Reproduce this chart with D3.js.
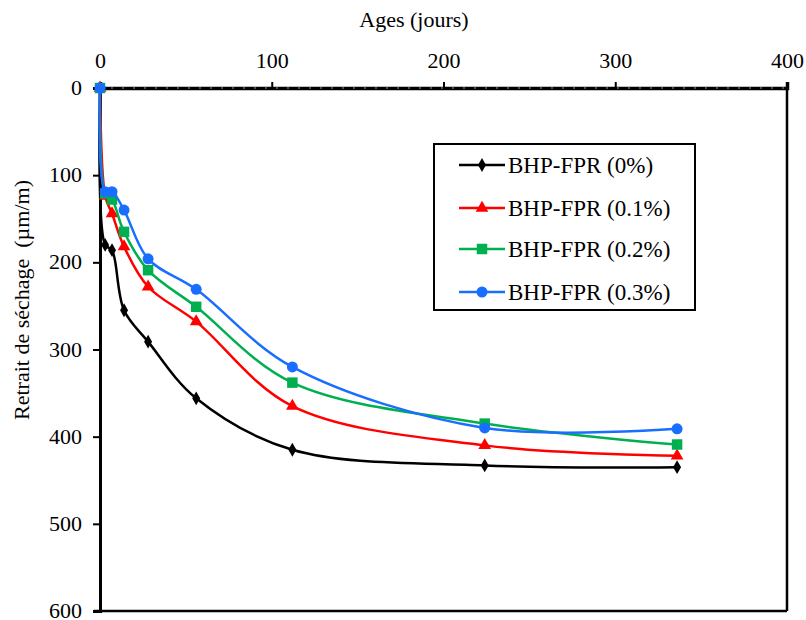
<!DOCTYPE html>
<html>
<head>
<meta charset="utf-8">
<script src="https://cdn.jsdelivr.net/npm/d3@7"></script>
<style>
  html, body { margin: 0; padding: 0; background: #fff; }
  svg text { font-family: "Liberation Serif", "Times New Roman", serif; fill: #000; }
</style>
</head>
<body>
<svg id="chart" width="806" height="620"></svg>
<script>
// Drying shrinkage of high-performance concrete with polypropylene fibres
const ages = [0, 3, 7, 14, 28, 56, 112, 224, 336];
const seriesNames = ["BHP-FPR (0%)", "BHP-FPR (0.1%)", "BHP-FPR (0.2%)", "BHP-FPR (0.3%)"];
const shrink0 = [0, 180, 186, 255, 291, 356, 415, 433, 435];
const shrink01 = [0, 124, 144, 182, 228, 268, 365, 410, 422];
const shrink02 = [0, 121, 128, 165, 209, 251, 338, 385, 409];
const shrink03 = [0, 119, 119, 140, 196, 231, 320, 390, 391];
const xTicks = [0, 100, 200, 300, 400];
const yTicks = [0, 100, 200, 300, 400, 500, 600];
const xTitle = "Ages (jours)";
const yTitle = "Retrait de séchage\u00a0\u00a0(µm/m)";

const values = [shrink0, shrink01, shrink02, shrink03];
const colors = ["#000000", "#ff0000", "#00b050", "#1a6eff"];
const symbols = [d3.symbolDiamond, d3.symbolTriangle, d3.symbolSquare, d3.symbolCircle];
const symSizes = [55, 70, 110, 95];

const svg = d3.select("#chart");
const x = d3.scaleLinear().domain([0, 400]).range([100, 787]);
const y = d3.scaleLinear().domain([0, 600]).range([88, 611]);

// Frame: right and bottom borders
svg.append("line").attr("x1", x(400)).attr("x2", x(400)).attr("y1", y(0)).attr("y2", y(600))
  .attr("stroke", "#000").attr("stroke-width", 2.5);
svg.append("line").attr("x1", x(0) - 6).attr("x2", x(400)).attr("y1", y(600)).attr("y2", y(600))
  .attr("stroke", "#000").attr("stroke-width", 2.5);

// Top (x) axis
const xAxis = svg.append("g").attr("transform", `translate(0,${y(0)})`)
  .call(d3.axisTop(x).tickValues(xTicks).tickFormat(d3.format("d")).tickSize(6).tickPadding(14));
xAxis.select(".domain").attr("stroke", "#000").attr("stroke-width", 3.5);
xAxis.selectAll(".tick line").attr("stroke-width", 2);
xAxis.selectAll(".tick text").attr("font-size", 22).attr("font-family", "Liberation Serif");
// dashed pattern within the thick top axis line
svg.append("line").attr("x1", x(0)).attr("x2", x(400)).attr("y1", y(0)).attr("y2", y(0))
  .attr("stroke", "#9a9a9a").attr("stroke-width", 1).attr("stroke-dasharray", "2 9");

// Left (y) axis
const yAxis = svg.append("g").attr("transform", `translate(${x(0)},0)`)
  .call(d3.axisLeft(y).tickValues(yTicks).tickFormat(d3.format("d")).tickSize(7).tickPadding(11));
yAxis.select(".domain").attr("stroke", "#000").attr("stroke-width", 3);
yAxis.selectAll(".tick line").attr("stroke-width", 2);
yAxis.selectAll(".tick text").attr("font-size", 22).attr("font-family", "Liberation Serif")
  .attr("dy", "0.3em");

// Axis titles
svg.append("text").attr("x", 414).attr("y", 27).attr("text-anchor", "middle")
  .attr("font-size", 22).text(xTitle);
svg.append("text").attr("transform", "translate(29,300) rotate(-90)").attr("text-anchor", "middle")
  .attr("font-size", 22).text(yTitle);

// Series lines and markers
const line = d3.line().x(d => x(d[0])).y(d => y(d[1])).curve(d3.curveCatmullRom.alpha(0.5));
values.forEach((vals, i) => {
  const pts = ages.map((a, k) => [a, vals[k]]);
  const g = svg.append("g");
  g.append("path").datum(pts).attr("d", line)
    .attr("fill", "none").attr("stroke", colors[i]).attr("stroke-width", 2.5);
  g.selectAll("path.mk").data(pts).join("path").attr("class", "mk")
    .attr("transform", d => `translate(${x(d[0])},${y(d[1])})`)
    .attr("d", d3.symbol().type(symbols[i]).size(symSizes[i]))
    .attr("fill", colors[i]);
});

// Legend
const lg = svg.append("g");
lg.append("rect").attr("x", 434).attr("y", 144).attr("width", 261).attr("height", 166)
  .attr("fill", "#fff").attr("stroke", "#000").attr("stroke-width", 2);
const rowY = [165, 208, 249, 292];
seriesNames.forEach((name, i) => {
  lg.append("line").attr("x1", 459).attr("x2", 505).attr("y1", rowY[i]).attr("y2", rowY[i])
    .attr("stroke", colors[i]).attr("stroke-width", 2.5);
  lg.append("path").attr("transform", `translate(482,${rowY[i]})`)
    .attr("d", d3.symbol().type(symbols[i]).size(symSizes[i])).attr("fill", colors[i]);
  lg.append("text").attr("x", 508).attr("y", rowY[i] + 8).attr("font-size", 23).text(name);
});
</script>
</body>
</html>
